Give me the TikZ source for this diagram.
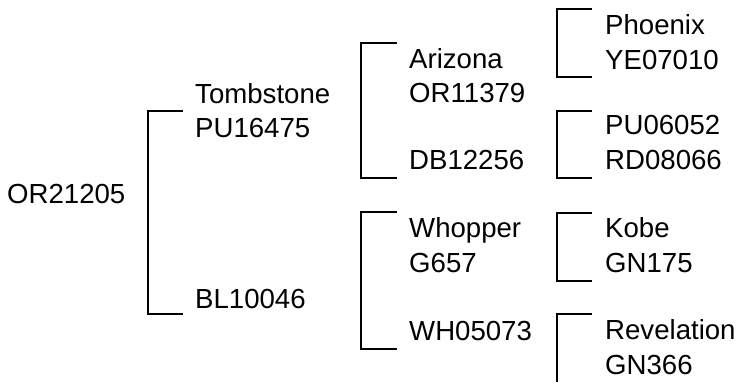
\documentclass[tikz,border=0pt]{standalone}
\usepackage{fontspec}
\setmainfont{Liberation Sans}
\begin{document}
\begin{tikzpicture}[x=1pt,y=-1pt,
  lbl/.style={anchor=base west,inner sep=0pt,align=left,font=\fontsize{27.6}{34.5}\selectfont},
  brk/.style={draw=black,line width=2pt}]
\clip (0,0) rectangle (737,381);
\fill[white] (0,0) rectangle (737,381);
% labels (base anchor = baseline of the last line)
\node[lbl] (or21205) at (7,203) {OR21205};
\node[lbl] (tomb) at (195,137.7) {Tombstone\\PU16475};
\node[lbl] (bl) at (195,308.3) {BL10046};
\node[lbl] (ariz) at (409,102.7) {Arizona\\OR11379};
\node[lbl] (db) at (409,169.3) {DB12256};
\node[lbl] (whop) at (409,272.3) {Whopper\\G657};
\node[lbl] (wh) at (409,340.7) {WH05073};
\node[lbl] (phx) at (605,69) {Phoenix\\YE07010};
\node[lbl] (pu) at (605,169.3) {PU06052\\RD08066};
\node[lbl] (kobe) at (605,272.3) {Kobe\\GN175};
\node[lbl] (rev) at (605,374) {Revelation\\GN366};
% bracket end points
\coordinate (a1) at (182.7,110.7); \coordinate (a2) at (182.7,313.7);
\coordinate (b1) at (396.7,43.3);  \coordinate (b2) at (396.7,178.3);
\coordinate (c1) at (396.7,212.3); \coordinate (c2) at (396.7,349);
\coordinate (d1) at (592.3,9);     \coordinate (d2) at (592.3,76.7);
\coordinate (e1) at (592.3,111);   \coordinate (e2) at (592.3,177.7);
\coordinate (f1) at (592.3,213.3); \coordinate (f2) at (592.3,280.7);
\coordinate (g1) at (592.3,314);   \coordinate (g2) at (592.3,420);
% brackets
\draw[brk] (a1) -- ++(-34.7,0) |- (a2);
\draw[brk] (b1) -- ++(-35.7,0) |- (b2);
\draw[brk] (c1) -- ++(-35.7,0) |- (c2);
\draw[brk] (d1) -- ++(-35.6,0) |- (d2);
\draw[brk] (e1) -- ++(-35.6,0) |- (e2);
\draw[brk] (f1) -- ++(-35.6,0) |- (f2);
\draw[brk] (g1) -- ++(-35.6,0) |- (g2);
\end{tikzpicture}
\end{document}
